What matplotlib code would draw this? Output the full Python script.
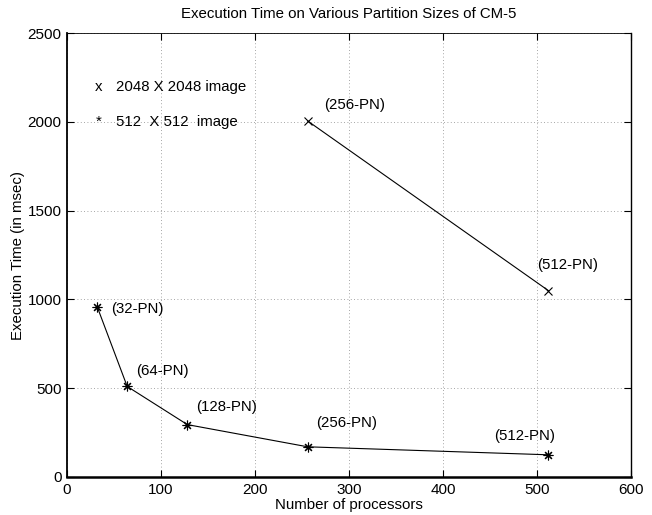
import matplotlib
matplotlib.use("Agg")
import matplotlib.pyplot as plt

plt.rcParams["font.family"] = ["Liberation Sans", "DejaVu Sans"]

# ── Data ──────────────────────────────────────────────────────────────────────
procs_big = [256, 512]
time_big = [2005, 1050]
labels_big = ["(256-PN)", "(512-PN)"]
label_pos_big = [(273, 2095), (500, 1194)]

procs_small = [32, 64, 128, 256, 512]
time_small = [960, 510, 295, 170, 125]
labels_small = ["(32-PN)", "(64-PN)", "(128-PN)", "(256-PN)", "(512-PN)"]
label_pos_small = [(47, 946), (73, 597), (137, 394), (265, 304), (454, 231)]

FS = 10.8

# ── Figure ────────────────────────────────────────────────────────────────────
fig = plt.figure(figsize=(6.52, 5.15), dpi=100)
ax = fig.add_axes([0.1028, 0.0738, 0.865, 0.862])

ax.plot(procs_big, time_big, color="black", linewidth=0.8,
        marker="x", markersize=6, markeredgewidth=0.8)
ax.plot(procs_small, time_small, color="black", linewidth=0.8,
        marker=(8, 2, 0), markersize=7, markeredgewidth=0.8)

for txt, (x, y) in zip(labels_big, label_pos_big):
    ax.text(x, y, txt, fontsize=FS, va="center", ha="left")
for txt, (x, y) in zip(labels_small, label_pos_small):
    ax.text(x, y, txt, fontsize=FS, va="center", ha="left")

# legend-like annotations
ax.text(34, 2196, "x", fontsize=FS, va="center", ha="center")
ax.text(52, 2196, "2048 X 2048 image", fontsize=FS, va="center", ha="left")
ax.text(34, 1999, "*", fontsize=FS, va="center", ha="center")
ax.text(52, 1999, "512  X 512  image", fontsize=FS, va="center", ha="left")

ax.set_xlim(0, 600)
ax.set_ylim(0, 2500)
ax.set_xticks(range(0, 601, 100))
ax.set_yticks(range(0, 2501, 500))
ax.grid(True, linestyle=(0, (1, 3)), color="#888888", linewidth=0.6)
ax.tick_params(direction="in", top=True, right=True, labelsize=11, length=5,
               pad=4)

ax.set_xlabel("Number of processors", fontsize=FS, labelpad=1)
ax.set_ylabel("Execution Time (in msec)", fontsize=FS, labelpad=2)
ax.set_title("Execution Time on Various Partition Sizes of CM-5",
             fontsize=10.8, pad=11)

ax.spines["bottom"].set_linewidth(1.8)
ax.spines["left"].set_linewidth(1.3)
ax.spines["top"].set_linewidth(0.6)
ax.spines["right"].set_linewidth(1.0)

fig.savefig("out.png", dpi=100)
